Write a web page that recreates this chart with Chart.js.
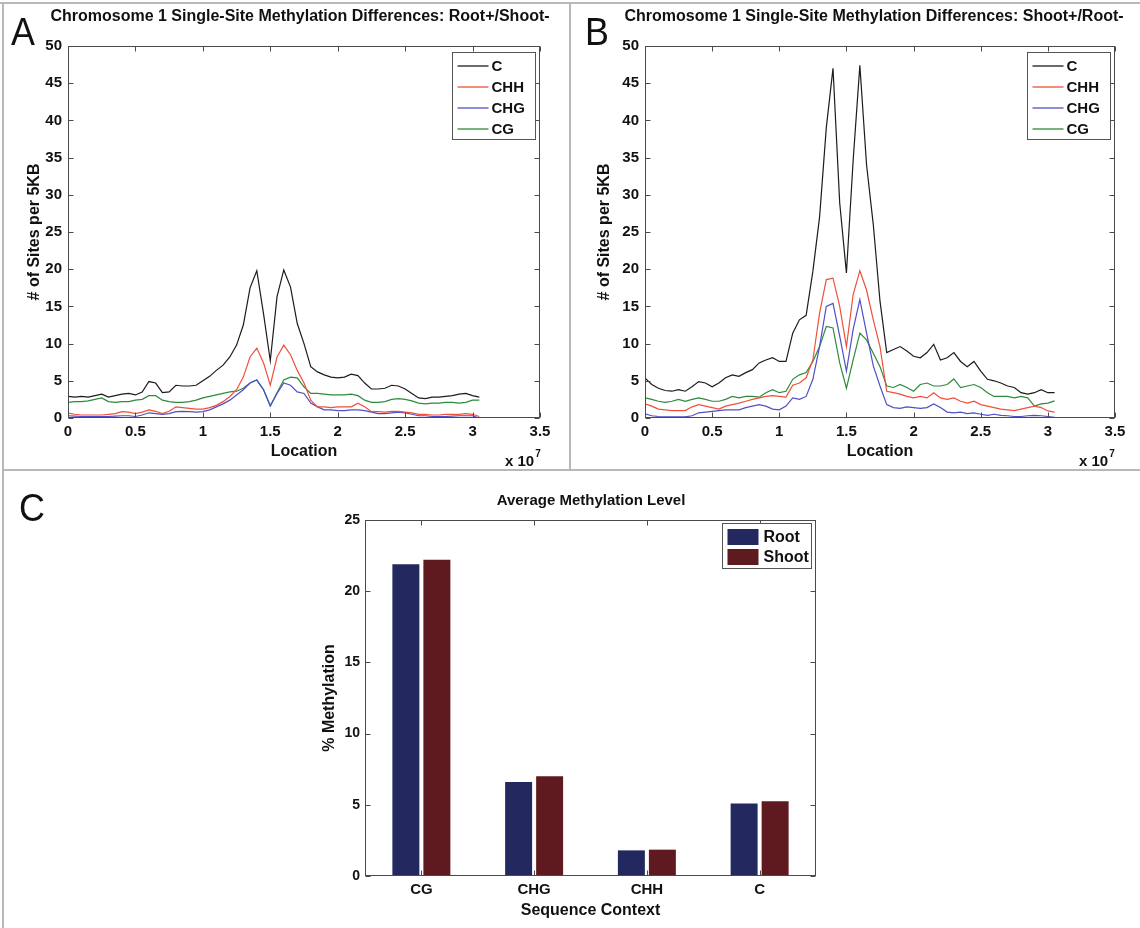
<!DOCTYPE html>
<html>
<head>
<meta charset="utf-8">
<title>Chromosome 1 methylation</title>
<script src="https://cdn.jsdelivr.net/npm/chart.js@4.4.1/dist/chart.umd.min.js"></script>
<style>
  body { margin: 0; background: #fff; }
  #fig { position: relative; width: 1140px; height: 928px; overflow: hidden; background: #fff; }
  #fig canvas { position: absolute; }
  .rule { position: absolute; background: #b8b8b8; }
</style>
</head>
<body>
<div id="fig">
  <canvas id="chartA" width="570" height="470" style="left:0;top:0"></canvas>
  <canvas id="chartB" width="570" height="470" style="left:570px;top:0"></canvas>
  <canvas id="chartC" width="1140" height="458" style="left:0;top:470px"></canvas>
  <div class="rule" style="left:0;top:2px;width:1140px;height:2px"></div>
  <div class="rule" style="left:2px;top:2px;width:2px;height:926px"></div>
  <div class="rule" style="left:569px;top:2px;width:2px;height:468px"></div>
  <div class="rule" style="left:2px;top:469px;width:1138px;height:2px"></div>
</div>
<script>
// location along chromosome 1, in units of 10^7 bp
const loc = [0, 0.05, 0.1, 0.15, 0.2, 0.25, 0.3, 0.35, 0.4, 0.45,
  0.5, 0.55, 0.6, 0.65, 0.7, 0.75, 0.8, 0.85, 0.9, 0.95,
  1, 1.05, 1.1, 1.15, 1.2, 1.25, 1.3, 1.35, 1.4, 1.45,
  1.5, 1.55, 1.6, 1.65, 1.7, 1.75, 1.8, 1.85, 1.9, 1.95,
  2, 2.05, 2.1, 2.15, 2.2, 2.25, 2.3, 2.35, 2.4, 2.45,
  2.5, 2.55, 2.6, 2.65, 2.7, 2.75, 2.8, 2.85, 2.9, 2.95,
  3, 3.05];

const contexts = ['C', 'CHH', 'CHG', 'CG'];
const contextColors = ['#1c1c1c', '#f0503a', '#4f50c4', '#2e8a3c'];

// A: Root+/Shoot-
const rootC = [2.9, 2.8, 2.9, 2.8, 3.0, 3.2, 2.8, 3.0, 3.2, 3.3,
  3.1, 3.5, 4.9, 4.7, 3.4, 3.5, 4.4, 4.3, 4.3, 4.4,
  5.0, 5.6, 6.4, 7.1, 8.2, 9.8, 12.5, 17.5, 19.8, 14.0,
  7.7, 16.3, 19.9, 17.6, 12.7, 10.0, 6.9, 6.2, 5.8, 5.5,
  5.4, 5.5, 5.9, 5.7, 4.7, 3.9, 3.9, 4.0, 4.4, 4.3,
  3.9, 3.3, 2.7, 2.6, 2.8, 2.8, 2.9, 3.0, 3.2, 3.3,
  3.0, 2.8];
const rootCHH = [0.65, 0.5, 0.4, 0.4, 0.4, 0.4, 0.5, 0.6, 0.85, 0.8,
  0.6, 0.8, 1.1, 0.9, 0.6, 0.9, 1.5, 1.4, 1.3, 1.2,
  1.2, 1.4, 1.7, 2.2, 2.9, 3.8, 5.5, 8.2, 9.4, 7.4,
  4.4, 8.2, 9.8, 8.5, 6.4, 4.7, 2.4, 1.5, 1.5, 1.4,
  1.5, 1.5, 1.5, 2.0, 1.5, 0.85, 0.85, 0.8, 0.9, 0.9,
  0.8, 0.7, 0.5, 0.5, 0.4, 0.4, 0.5, 0.5, 0.5, 0.6,
  0.5, 0.2];
const rootCHG = [0.3, 0.25, 0.2, 0.2, 0.2, 0.2, 0.2, 0.25, 0.3, 0.3,
  0.2, 0.4, 0.7, 0.6, 0.5, 0.6, 0.85, 0.9, 0.85, 0.8,
  0.85, 1.1, 1.5, 1.9, 2.4, 3.1, 3.8, 4.7, 5.1, 3.8,
  1.6, 3.3, 4.7, 4.4, 3.5, 3.3, 2.0, 1.5, 1.1, 1.1,
  1.0, 1.0, 1.1, 1.1, 1.0, 0.8, 0.6, 0.6, 0.7, 0.8,
  0.7, 0.5, 0.3, 0.3, 0.2, 0.2, 0.2, 0.25, 0.3, 0.3,
  0.3, 0.0];
const rootCG = [2.1, 2.2, 2.2, 2.3, 2.5, 2.7, 2.2, 2.1, 2.2, 2.2,
  2.4, 2.5, 3.0, 3.0, 2.4, 2.2, 2.1, 2.1, 2.2, 2.4,
  2.7, 2.9, 3.1, 3.3, 3.5, 3.6, 4.0, 4.7, 5.1, 3.8,
  1.65, 3.4, 5.1, 5.5, 5.4, 4.2, 3.3, 3.3, 3.2, 3.1,
  3.1, 3.1, 3.2, 3.0, 2.4, 2.1, 2.1, 2.2, 2.5, 2.6,
  2.5, 2.3, 2.0, 1.9, 2.0, 2.0, 2.1, 2.1, 2.0, 2.1,
  2.4, 2.4];

// B: Shoot+/Root-
const shootC = [5.4, 4.5, 4.0, 3.7, 3.6, 3.8, 3.6, 4.2, 4.9, 4.7,
  4.2, 4.7, 5.4, 5.8, 5.6, 6.1, 6.5, 7.4, 7.8, 8.1,
  7.6, 7.6, 11.4, 13.2, 13.8, 19.7, 27.0, 39.0, 47.0, 28.9,
  19.5, 34.6, 47.4, 34.0, 26.0, 15.7, 8.8, 9.2, 9.6, 9.0,
  8.3, 8.1, 8.8, 9.9, 7.8, 8.1, 8.8, 7.6, 6.9, 7.6,
  6.3, 5.2, 5.0, 4.7, 4.3, 4.1, 3.4, 3.2, 3.4, 3.8,
  3.4, 3.4];
const shootCHH = [1.9, 1.6, 1.2, 1.1, 1.0, 1.0, 1.0, 1.5, 1.8, 1.6,
  1.4, 1.2, 1.6, 1.8, 2.0, 2.25, 2.5, 2.7, 2.9, 3.0,
  2.9, 2.8, 4.4, 4.7, 5.4, 7.8, 14.1, 18.6, 18.8, 15.0,
  9.6, 16.6, 19.8, 17.2, 13.2, 9.6, 3.6, 3.4, 3.2, 2.9,
  2.7, 2.9, 2.7, 3.4, 2.7, 2.5, 2.7, 2.25, 2.0, 2.25,
  1.8, 1.6, 1.4, 1.2, 1.1, 1.0, 1.2, 1.4, 1.6, 1.4,
  0.95, 0.8];
const shootCHG = [0.55, 0.3, 0.2, 0.15, 0.15, 0.15, 0.15, 0.3, 0.7, 0.8,
  0.9, 1.0, 1.1, 1.1, 1.1, 1.4, 1.6, 1.8, 1.6, 1.2,
  1.1, 1.6, 2.7, 2.5, 2.9, 5.2, 9.6, 15.0, 15.4, 11.0,
  6.3, 11.9, 15.9, 11.4, 7.0, 4.3, 1.8, 1.4, 1.3, 1.5,
  1.4, 1.3, 1.4, 1.9, 1.4, 0.8, 0.7, 0.8, 0.6, 0.7,
  0.5, 0.35, 0.5, 0.35, 0.3, 0.2, 0.2, 0.3, 0.35, 0.3,
  0.2, 0.1];
const shootCG = [2.7, 2.5, 2.25, 2.1, 2.25, 2.5, 2.25, 2.5, 2.7, 2.5,
  2.25, 2.25, 2.5, 2.9, 2.7, 2.9, 2.9, 2.8, 3.4, 3.8,
  3.4, 3.6, 5.2, 5.8, 6.1, 7.6, 9.6, 12.3, 12.1, 7.4,
  4.0, 7.8, 11.4, 10.5, 8.7, 6.9, 4.3, 4.1, 4.5, 4.1,
  3.6, 4.5, 4.7, 4.3, 4.3, 4.5, 5.25, 4.1, 4.3, 4.5,
  4.1, 3.4, 2.9, 2.9, 2.9, 2.7, 2.9, 2.7, 1.6, 1.9,
  2.0, 2.3];

const xTicks = [0, 0.5, 1, 1.5, 2, 2.5, 3, 3.5];
const yTicksSites = [0, 5, 10, 15, 20, 25, 30, 35, 40, 45, 50];

// C: average methylation level
const barCategories = ['CG', 'CHG', 'CHH', 'C'];
const rootLevel = [21.9, 6.6, 1.8, 5.1];
const shootLevel = [22.2, 7.0, 1.85, 5.25];
const yTicksLevel = [0, 5, 10, 15, 20, 25];

const FAMILY = '"Liberation Sans", Arial, Helvetica, sans-serif';
Chart.defaults.font.family = FAMILY;
Chart.defaults.color = '#111';

// box, inward ticks, legend and panel texts in the MATLAB look
const framePlugin = {
    id: 'frame',
    afterDraw(chart, args, o) {
        const ctx = chart.ctx;
        const a = chart.chartArea;
        const L = Math.round(a.left) + 0.5, R = Math.round(a.right) - 0.5;
        const T = Math.round(a.top) + 0.5, B = Math.round(a.bottom) - 0.5;
        ctx.save();
        ctx.strokeStyle = '#4a4a4a';
        ctx.lineWidth = 1;
        ctx.strokeRect(L, T, R - L, B - T);
        const xs = chart.scales.x, ys = chart.scales.y;
        ctx.beginPath();
        xs.ticks.forEach((t, i) => {
            const px = Math.round(xs.getPixelForTick(i)) + 0.5;
            ctx.moveTo(px, B); ctx.lineTo(px, B - o.tick);
            ctx.moveTo(px, T); ctx.lineTo(px, T + o.tick);
        });
        ys.ticks.forEach((t, i) => {
            const py = Math.round(ys.getPixelForTick(i)) + 0.5;
            ctx.moveTo(L, py); ctx.lineTo(L + o.tick, py);
            ctx.moveTo(R, py); ctx.lineTo(R - o.tick, py);
        });
        ctx.stroke();

        // legend
        const lg = o.legend;
        const bx = Math.round(a.right - lg.inset - lg.w) + 0.5;
        const by = Math.round(a.top + lg.insetTop) + 0.5;
        ctx.fillStyle = '#fff';
        ctx.fillRect(bx, by, lg.w, lg.h);
        ctx.strokeStyle = '#555';
        ctx.strokeRect(bx, by, lg.w, lg.h);
        ctx.font = lg.font;
        ctx.textAlign = 'left';
        ctx.textBaseline = 'middle';
        chart.data.datasets.forEach((ds, i) => {
            const cy = Math.round(by + lg.first + i * lg.row);
            if (lg.type === 'line') {
                ctx.strokeStyle = ds.borderColor;
                ctx.lineWidth = 1.3;
                ctx.beginPath();
                ctx.moveTo(bx + lg.sx, cy);
                ctx.lineTo(bx + lg.sx + lg.sw, cy);
                ctx.stroke();
            } else {
                ctx.fillStyle = ds.backgroundColor;
                ctx.fillRect(bx + lg.sx, cy - lg.sh / 2, lg.sw, lg.sh);
            }
            ctx.fillStyle = '#111';
            ctx.fillText(ds.label, bx + lg.tx, cy + 1);
        });

        // chart title
        ctx.fillStyle = '#111';
        ctx.font = o.titleFont;
        ctx.textAlign = 'center';
        ctx.textBaseline = 'middle';
        ctx.fillText(o.title, o.titleX, o.titleY);

        // panel letter (thin)
        ctx.save();
        ctx.translate(o.letterX, o.letterY);
        ctx.scale(0.92, 1);
        ctx.font = '400 39px ' + FAMILY;
        ctx.textAlign = 'left';
        ctx.textBaseline = 'alphabetic';
        ctx.fillText(o.letter, 0, 0);
        ctx.restore();

        // x 10^7 multiplier
        if (o.expX != null) {
            ctx.font = 'bold 15px ' + FAMILY;
            ctx.textAlign = 'left';
            ctx.textBaseline = 'alphabetic';
            ctx.fillText('x 10', o.expX, o.expY);
            const w = ctx.measureText('x 10').width;
            ctx.font = 'bold 10px ' + FAMILY;
            ctx.fillText('7', o.expX + w + 1, o.expY - 9);
        }
        ctx.restore();
    }
};

function fixedTicks(values) {
    return scale => { scale.ticks = values.map(v => ({ value: v })); };
}

function makeSitesChart(id, series, title, letter, cfg) {
    new Chart(document.getElementById(id), {
        type: 'line',
        data: {
            datasets: contexts.map((name, i) => ({
                label: name,
                data: loc.map((x, j) => ({ x: x, y: series[i][j] })),
                borderColor: contextColors[i],
                borderWidth: 1.2,
                pointRadius: 0,
                tension: 0,
                fill: false
            }))
        },
        options: {
            responsive: false,
            animation: false,
            layout: { padding: { top: 46, right: cfg.padRight, bottom: 0, left: 0 } },
            plugins: {
                legend: { display: false },
                tooltip: { enabled: false },
                frame: {
                    tick: 5,
                    title: title, titleX: cfg.titleX, titleY: 17,
                    titleFont: 'bold 16px ' + FAMILY,
                    letter: letter, letterX: cfg.letterX, letterY: 45,
                    expX: cfg.expX, expY: 466,
                    legend: {
                        type: 'line', inset: 5, insetTop: 6, w: 83, h: 87,
                        first: 13, row: 21, sx: 5, sw: 31, sh: 0, tx: 39,
                        font: 'bold 15px ' + FAMILY
                    }
                }
            },
            scales: {
                x: {
                    type: 'linear', min: 0, max: 3.5,
                    afterBuildTicks: fixedTicks(xTicks),
                    afterFit: s => { s.height = 52; },
                    grid: { display: false, drawTicks: false },
                    border: { display: false },
                    ticks: { font: { size: 15, weight: 'bold' }, padding: 5, maxRotation: 0, callback: v => String(v) },
                    title: { display: true, text: 'Location', font: { size: 16, weight: 'bold' }, padding: { top: 0, bottom: 9 } }
                },
                y: {
                    type: 'linear', min: 0, max: 50,
                    afterBuildTicks: fixedTicks(yTicksSites),
                    afterFit: s => { s.width = cfg.plotLeft; },
                    grid: { display: false, drawTicks: false },
                    border: { display: false },
                    ticks: { font: { size: 15, weight: 'bold' }, padding: 6 },
                    title: { display: true, text: '# of Sites per 5KB', font: { size: 16, weight: 'bold' }, padding: { top: 25, bottom: 0 } }
                }
            }
        },
        plugins: [framePlugin]
    });
}

makeSitesChart('chartA', [rootC, rootCHH, rootCHG, rootCG],
    'Chromosome 1 Single-Site Methylation Differences: Root+/Shoot-', 'A',
    { plotLeft: 68, padRight: 30, titleX: 300, letterX: 11, expX: 505 });
makeSitesChart('chartB', [shootC, shootCHH, shootCHG, shootCG],
    'Chromosome 1 Single-Site Methylation Differences: Shoot+/Root-', 'B',
    { plotLeft: 75, padRight: 25, titleX: 304, letterX: 15, expX: 509 });

new Chart(document.getElementById('chartC'), {
    type: 'bar',
    data: {
        labels: barCategories,
        datasets: [
            { label: 'Root', data: rootLevel, backgroundColor: '#23285e', categoryPercentage: 0.55, barPercentage: 0.87 },
            { label: 'Shoot', data: shootLevel, backgroundColor: '#5f1a20', categoryPercentage: 0.55, barPercentage: 0.87 }
        ]
    },
    options: {
        responsive: false,
        animation: false,
        layout: { padding: { top: 50, right: 324, bottom: 0, left: 0 } },
        plugins: {
            legend: { display: false },
            tooltip: { enabled: false },
            frame: {
                tick: 5,
                title: 'Average Methylation Level', titleX: 591, titleY: 31,
                titleFont: 'bold 15px ' + FAMILY,
                letter: 'C', letterX: 19, letterY: 51,
                legend: {
                    type: 'box', inset: 5, insetTop: 3, w: 89, h: 45,
                    first: 13, row: 20.5, sx: 5, sw: 31, sh: 16, tx: 41,
                    font: 'bold 16px ' + FAMILY
                }
            }
        },
        scales: {
            x: {
                afterFit: s => { s.height = 52; },
                grid: { display: false, drawTicks: false },
                border: { display: false },
                ticks: { font: { size: 15, weight: 'bold' }, padding: 5 },
                title: { display: true, text: 'Sequence Context', font: { size: 16, weight: 'bold' }, padding: { top: 0, bottom: 8 } }
            },
            y: {
                min: 0, max: 25,
                afterBuildTicks: fixedTicks(yTicksLevel),
                afterFit: s => { s.width = 365; },
                grid: { display: false, drawTicks: false },
                border: { display: false },
                ticks: { font: { size: 14, weight: 'bold' }, padding: 5 },
                title: { display: true, text: '% Methylation', font: { size: 16, weight: 'bold' }, padding: { top: 320, bottom: 0 } }
            }
        }
    },
    plugins: [framePlugin]
});
</script>
</body>
</html>
